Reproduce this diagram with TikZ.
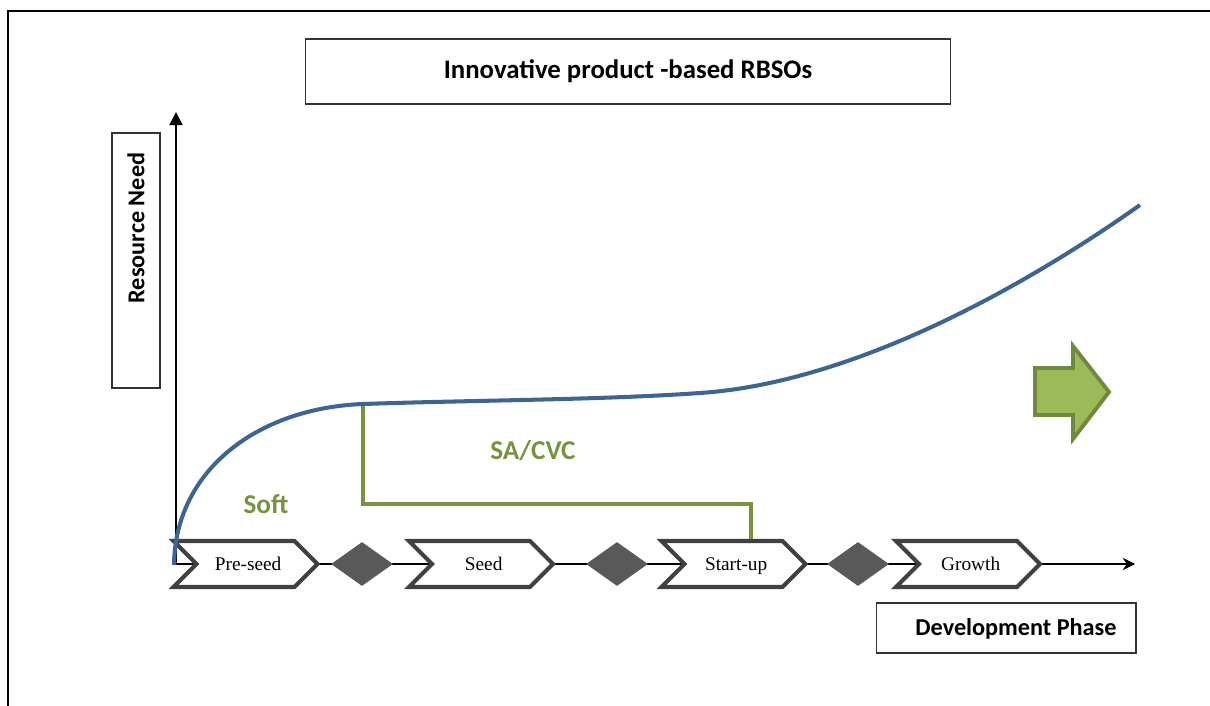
\documentclass[tikz,border=0pt]{standalone}
\usepackage{fontspec}
\setmainfont{Liberation Serif}
\newfontfamily\carl{Carlito}
\usetikzlibrary{shapes.geometric,shapes.symbols,arrows.meta}

\definecolor{curveblue}{HTML}{3C6494}
\definecolor{olive}{HTML}{77933C}
\definecolor{arrowfill}{HTML}{9BBB59}
\definecolor{arrowedge}{HTML}{71893F}
\definecolor{chevgrey}{HTML}{404040}
\definecolor{gategrey}{HTML}{595959}

\begin{document}
\begin{tikzpicture}[x=0.02cm,y=-0.02cm,
  labelbox/.style={draw=black!80,line width=0.6pt,fill=white,inner sep=0pt},
  boldlabel/.style={font=\carl\bfseries\fontsize{13.8}{16}\selectfont,inner sep=0pt},
  phase/.style={shape=signal,signal from=west,signal to=east,
    signal pointer angle=90,draw=chevgrey,line width=2.3pt,fill=white,
    minimum width=2.88cm,minimum height=0.92cm,inner sep=0pt,
    text height=1.78ex,text depth=0.22ex,
    font=\fontsize{11}{13}\selectfont},
  gate/.style={shape=diamond,fill=gategrey,draw=none,
    minimum width=1.24cm,minimum height=0.88cm,inner sep=0pt},
  axis/.style={line width=0.85pt,black},
  stage/.style={text=olive,font=\carl\bfseries\fontsize{15.5}{18}\selectfont,inner sep=0pt}]

\useasboundingbox (0,0) rectangle (1210,706);

% outer frame (top and left edges)
\draw[line width=1.5pt] (8,706) -- (8,11) -- (1210,11);

% title
\node[labelbox,minimum width=12.92cm,minimum height=1.3cm,
  font=\carl\bfseries\fontsize{15.25}{18}\selectfont] (title) at (628,71.5)
  {\raisebox{2.2pt}{Innovative product -based RBSOs}};

% axes
\coordinate (o) at (176,565);
\coordinate (ytop) at (176,112);
\coordinate (xend) at (1135,564);
\draw[axis,-{Triangle[width=7.4pt,length=7.4pt]}] (o) -- (ytop);
\draw[axis,-{Stealth[width=7pt,length=7pt]}] (176,564) -- (xend);

% axis captions
\node[labelbox,minimum width=0.96cm,minimum height=5.1cm] (rnbox) at (136,260.5) {};
\node[boldlabel,rotate=90] (rnlabel) at (136,228) {Resource Need};
\node[labelbox,minimum width=5.2cm,minimum height=1.0cm] (devbox) at (1006,628) {};
\node[boldlabel] (devlabel) at (1016,629) {Development Phase};

% development phases and gates
\node[phase] (preseed) at (245.5,564) {\hspace{3pt}Pre-seed};
\node[gate]  (g1) at (362,564) {};
\node[phase] (seed) at (481,564) {\hspace{3pt}Seed};
\node[gate]  (g2) at (617,564) {};
\node[phase] (startup) at (733.5,564) {\hspace{3pt}Start-up};
\node[gate]  (g3) at (858,564) {};
\node[phase] (growth) at (968,564) {\hspace{3pt}Growth};

% financing step line
\coordinate (s1) at (363,404);
\coordinate (s2) at (751,504);
\draw[olive,line width=1.8pt] (s1) |- (s2) -- (s2 |- startup.north);

% resource need curve
\draw[curveblue,line width=2.3pt]
  (174,565) .. controls (175,470) and (258,408) .. (363,404)
  .. controls (480,400) and (600,400) .. (700,393)
  .. controls (850,383) and (1020,290) .. (1140,205);

% stage labels
\node[stage] (soft) at (266,504) {Soft};
\node[stage] (sacvc) at (533,451) {SA/CVC};

% direction arrow
\draw[fill=arrowfill,draw=arrowedge,line width=2.2pt,line join=miter]
  (1035,368) -- (1073,368) -- (1073,346) -- (1109,392) -- (1073,439)
  -- (1073,415) -- (1035,415) -- cycle;
\end{tikzpicture}
\end{document}
